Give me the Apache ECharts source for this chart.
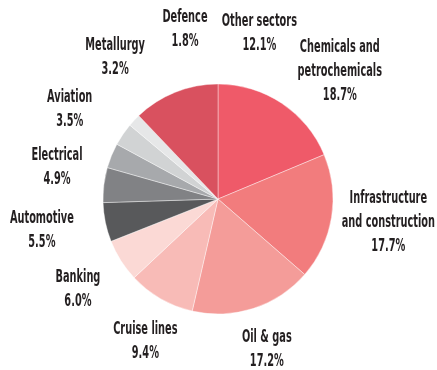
<!DOCTYPE html>
<html>
<head>
<meta charset="utf-8">
<script src="https://cdn.jsdelivr.net/npm/echarts@6/dist/echarts.min.js"></script>
<style>
  html, body { margin: 0; padding: 0; background: #ffffff; }
  #chart { width: 437px; height: 370px; }
</style>
</head>
<body>
<div id="chart"></div>
<script>
// Sector shares, clockwise from twelve o'clock
const sectors = [
  'Chemicals and\npetrochemicals',
  'Infrastructure\nand construction',
  'Oil & gas',
  'Cruise lines',
  'Banking',
  'Automotive',
  'Electrical',
  'Aviation',
  'Metallurgy',
  'Defence',
  'Other sectors'
];
const shares = [18.7, 17.7, 17.2, 9.4, 6.0, 5.5, 4.9, 3.5, 3.2, 1.8, 12.1];

const sliceColors = [
  '#ef5a69', '#f27c7d', '#f49c99', '#f8bbb7', '#fbd9d5',
  '#58595b', '#818285', '#a7a9ac', '#d1d3d4', '#e6e7e8', '#d9515f'
];

// Label anchors around the pie: [angle clockwise from top (deg), distance from centre (px)]
const labelPolar = [
  [43.8, 176], [98, 172], [162, 158], [207, 160], [237, 167], [259.7, 179],
  [281, 164], [301, 173], [324, 175], [349, 173], [14, 171]
];

const pieCenter = [218, 199];
const pieRadius = 115;

// Condensed bold caption style, squeezed horizontally
const labelFont = "bold 17px 'DejaVu Sans Condensed', 'DejaVu Sans', sans-serif";
const labelSqueeze = 0.64;

const chart = echarts.init(document.getElementById('chart'), null, { renderer: 'canvas' });

const labelGraphics = sectors.map((name, i) => {
  const [ang, dist] = labelPolar[i];
  const rad = ang * Math.PI / 180;
  return {
    type: 'text',
    x: pieCenter[0] + dist * Math.sin(rad),
    y: pieCenter[1] - dist * Math.cos(rad),
    scaleX: labelSqueeze,
    silent: true,
    style: {
      x: 0,
      y: 0,
      text: name + '\n' + shares[i].toFixed(1) + '%',
      font: labelFont,
      lineHeight: 24,
      fill: '#231f20',
      align: 'center',
      verticalAlign: 'middle'
    }
  };
});

chart.setOption({
  animation: false,
  backgroundColor: '#ffffff',
  graphic: labelGraphics,
  series: [{
    type: 'pie',
    center: pieCenter,
    radius: [0, pieRadius],
    startAngle: 90,
    clockwise: true,
    data: sectors.map((name, i) => ({
      name: name,
      value: shares[i],
      itemStyle: { color: sliceColors[i] }
    })),
    itemStyle: { borderColor: '#ffffff', borderWidth: 0.4 },
    label: { show: false },
    labelLine: { show: false },
    emphasis: { disabled: true }
  }]
});
</script>
</body>
</html>
